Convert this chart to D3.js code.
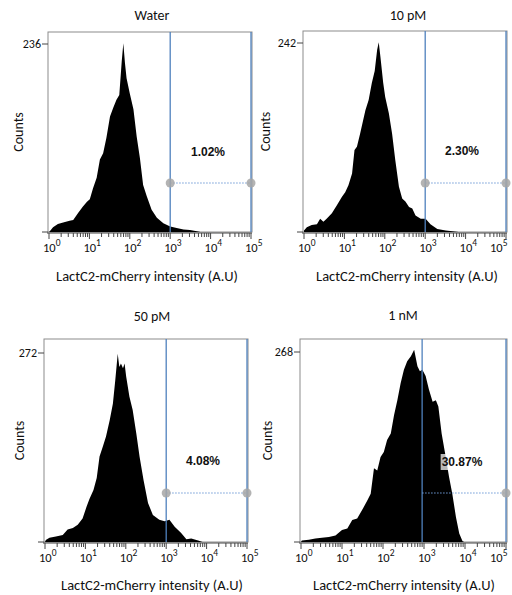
<!DOCTYPE html>
<html>
<head>
<meta charset="utf-8">
<script src="https://cdn.jsdelivr.net/npm/d3@7"></script>
<style>
  body { margin: 0; background: #fff; }
  text { font-family: Carlito, Calibri, Lato, sans-serif; fill: #111; }
  .pct { font-family: "Liberation Sans", Arial, sans-serif; font-weight: bold; }
</style>
</head>
<body>
<div id="vis"></div>
<script>
// histogram traces, x given as log10(intensity), y as counts
const titles = ['Water', '10 pM', '50 pM', '1 nM'];
const yMaxTicks = [236, 242, 272, 268];
const percents = ['1.02%', '2.30%', '4.08%', '30.87%'];
const gateLow = [1000, 1000, 1000, 900];
const gateHigh = 100000;

const waterLog = [0, 0.02, 0.1, 0.22, 0.35, 0.51, 0.6, 0.72, 0.84, 0.94, 1.01, 1.09, 1.18, 1.26, 1.34, 1.42, 1.51, 1.59, 1.67, 1.74, 1.8, 1.84, 1.88, 1.92, 2.0, 2.09, 2.17, 2.25, 2.33, 2.42, 2.54, 2.67, 2.83, 3.0, 3.16, 3.33, 3.49, 3.66, 3.75];
const waterCounts = [0, 1, 6, 10, 12, 14, 15, 24, 32, 38, 41, 55, 68, 91, 99, 118, 145, 156, 166, 172, 214, 237, 212, 193, 174, 154, 120, 93, 59, 45, 28, 18, 11, 7, 5, 3, 2.5, 1, 0];

const pm10Log = [0, 0.07, 0.19, 0.32, 0.4, 0.48, 0.56, 0.69, 0.81, 0.94, 1.02, 1.1, 1.19, 1.25, 1.31, 1.39, 1.52, 1.6, 1.68, 1.75, 1.81, 1.85, 1.89, 1.96, 2.01, 2.1, 2.18, 2.26, 2.35, 2.43, 2.51, 2.6, 2.68, 2.76, 2.89, 3.01, 3.13, 3.3, 3.51, 3.67, 3.83];
const pm10Counts = [2, 6, 9, 10, 17, 13, 17, 24, 34, 45, 51, 60, 75, 105, 109, 126, 156, 169, 191, 206, 233, 243, 225, 191, 173, 152, 126, 92, 58, 43, 39, 32, 30, 21, 17, 17, 10, 4, 2, 1, 0];

const pm50Log = [0, 0.02, 0.11, 0.27, 0.44, 0.56, 0.69, 0.81, 0.93, 1.03, 1.1, 1.2, 1.28, 1.35, 1.43, 1.51, 1.6, 1.68, 1.74, 1.8, 1.84, 1.88, 1.93, 1.97, 2.01, 2.09, 2.17, 2.26, 2.34, 2.44, 2.55, 2.67, 2.83, 2.96, 3.08, 3.21, 3.37, 3.5, 3.62, 3.79, 3.9];
const pm50Counts = [0, 3, 6, 8, 10, 18, 20, 25, 34, 51, 62, 75, 92, 123, 137, 152, 175, 199, 233, 271, 252, 257, 250, 257, 238, 209, 190, 156, 123, 89, 56, 39, 32, 30, 32, 22, 13, 4, 5, 2, 0];

const nm1Log = [0, 0.02, 0.19, 0.35, 0.51, 0.68, 0.84, 1.0, 1.13, 1.25, 1.37, 1.49, 1.62, 1.7, 1.78, 1.86, 1.94, 2.02, 2.1, 2.19, 2.27, 2.35, 2.43, 2.51, 2.59, 2.68, 2.76, 2.84, 2.9, 2.96, 3.04, 3.12, 3.21, 3.29, 3.35, 3.43, 3.53, 3.61, 3.69, 3.78, 3.86, 3.94, 3.98];
const nm1Counts = [0, 2, 3, 5, 6, 7, 9, 17, 19, 31, 33, 45, 59, 68, 104, 101, 120, 127, 144, 153, 179, 200, 224, 243, 255, 262, 271, 248, 241, 243, 234, 215, 198, 200, 191, 153, 120, 92, 68, 35, 12, 1, 0];

const histLogs = [waterLog, pm10Log, pm50Log, nm1Log];
const histCounts = [waterCounts, pm10Counts, pm50Counts, nm1Counts];

// panel layout
const panels = [
  {x: 48, y: 32, w: 204, h: 200, tickOff: 12, titleX: 152, titleY: 20, countsX: 23, lblX: 147, lblY: 281, pctX: 208, pctY: 156, gateY: 183},
  {x: 303, y: 31, w: 204, h: 201, tickOff: 12, titleX: 408, titleY: 20, countsX: 270, lblX: 407, lblY: 281, pctX: 462, pctY: 155, gateY: 183},
  {x: 44, y: 339, w: 204, h: 203, tickOff: 14, titleX: 152, titleY: 321, countsX: 24, lblX: 152, lblY: 590, pctX: 203, pctY: 465, gateY: 493},
  {x: 300, y: 339, w: 207, h: 203, tickOff: 13, titleX: 403, titleY: 320, countsX: 272, lblX: 404, lblY: 590, pctX: 462, pctY: 466, gateY: 493}
];

const svg = d3.select('#vis')
    .append('svg')
    .attr('width', 512)
    .attr('height', 595);

panels.forEach((p, i) => {
  const g = svg.append('g');

  const xScale = d3.scaleLog()
      .domain([1, 1e5])
      .range([p.x + 1, p.x + p.w - 1]);

  const top = yMaxTicks[i] * p.h / (p.h - p.tickOff);
  const yScale = d3.scaleLinear()
      .domain([0, top])
      .range([p.y + p.h, p.y]);

  // frame
  g.append('rect')
      .attr('x', p.x).attr('y', p.y)
      .attr('width', p.w).attr('height', p.h)
      .attr('fill', 'none')
      .attr('stroke', '#8c8c8c')
      .attr('stroke-width', 1);

  // histogram
  const pts = histLogs[i].map((v, k) => [Math.pow(10, v), histCounts[i][k]]);
  const area = d3.area()
      .x(d => xScale(d[0]))
      .y0(yScale(0))
      .y1(d => yScale(d[1]));
  g.append('path')
      .datum(pts)
      .attr('d', area)
      .attr('fill', '#000');

  // gate
  [gateLow[i], gateHigh].forEach(v => {
    g.append('line')
        .attr('x1', xScale(v)).attr('x2', xScale(v))
        .attr('y1', p.y).attr('y2', p.y + p.h)
        .attr('stroke', '#4f81bd')
        .attr('stroke-width', 1.3);
  });
  g.append('line')
      .attr('x1', xScale(gateLow[i])).attr('x2', xScale(gateHigh))
      .attr('y1', p.gateY).attr('y2', p.gateY)
      .attr('stroke', '#6f9bd6')
      .attr('stroke-width', 1)
      .attr('stroke-dasharray', '1.5,1.5');
  g.selectAll('.handle')
      .data(i === 3 ? [gateHigh] : [gateLow[i], gateHigh])
      .join('circle')
      .attr('class', 'handle')
      .attr('cx', d => xScale(d))
      .attr('cy', p.gateY)
      .attr('r', 4.5)
      .attr('fill', '#a6a6a6')
      .attr('opacity', 0.85);

  // percent label
  const pct = g.append('text')
      .attr('class', 'pct')
      .attr('x', p.pctX).attr('y', p.pctY)
      .attr('text-anchor', 'middle')
      .style('font-size', '12px')
      .text(percents[i]);
  const bb = pct.node().getBBox();
  g.insert('rect', '.pct')
      .attr('x', bb.x - 1).attr('y', bb.y - 1)
      .attr('width', bb.width + 2).attr('height', bb.height + 2)
      .attr('fill', '#fff')
      .attr('opacity', 0.72);

  // x axis
  const xAxisY = p.y + p.h + 1;
  g.append('line')
      .attr('x1', p.x - 1).attr('x2', p.x + p.w)
      .attr('y1', xAxisY).attr('y2', xAxisY)
      .attr('stroke', '#444');
  const minor = [];
  for (let e = 0; e < 5; e++) for (let m = 2; m <= 9; m++) minor.push(m * Math.pow(10, e));
  g.selectAll('.minor')
      .data(minor)
      .join('line')
      .attr('x1', d => xScale(d)).attr('x2', d => xScale(d))
      .attr('y1', xAxisY).attr('y2', xAxisY + 4)
      .attr('stroke', '#444');
  const majors = [0, 1, 2, 3, 4, 5];
  g.selectAll('.major')
      .data(majors)
      .join('line')
      .attr('x1', d => xScale(Math.pow(10, d))).attr('x2', d => xScale(Math.pow(10, d)))
      .attr('y1', xAxisY).attr('y2', xAxisY + 6)
      .attr('stroke', '#444');
  const lab = g.selectAll('.xlab')
      .data(majors)
      .join('text')
      .attr('class', 'xlab')
      .attr('x', d => Math.min(xScale(Math.pow(10, d)) - 6, 490))
      .attr('y', xAxisY + 19)
      .style('font-size', '12.5px');
  lab.append('tspan').text('10');
  lab.append('tspan')
      .attr('dy', -6)
      .style('font-size', '9.5px')
      .text(d => d);

  // y axis ticks
  [0, yMaxTicks[i]].forEach(v => {
    g.append('line')
        .attr('x1', p.x - 6).attr('x2', p.x)
        .attr('y1', yScale(v)).attr('y2', yScale(v))
        .attr('stroke', '#444');
  });
  g.append('text')
      .attr('x', p.x - 7)
      .attr('y', yScale(yMaxTicks[i]) + 4)
      .attr('text-anchor', 'end')
      .style('font-size', '12px')
      .text(yMaxTicks[i]);

  // titles and labels
  g.append('text')
      .attr('x', p.titleX).attr('y', p.titleY)
      .attr('text-anchor', 'middle')
      .style('font-size', '14px')
      .text(titles[i]);
  g.append('text')
      .attr('transform', `translate(${p.countsX},${p.y + p.h / 2}) rotate(-90)`)
      .attr('text-anchor', 'middle')
      .style('font-size', '14px')
      .text('Counts');
  g.append('text')
      .attr('x', p.lblX).attr('y', p.lblY)
      .attr('text-anchor', 'middle')
      .style('font-size', '14.5px')
      .text('LactC2-mCherry intensity (A.U)');
});
</script>
</body>
</html>
